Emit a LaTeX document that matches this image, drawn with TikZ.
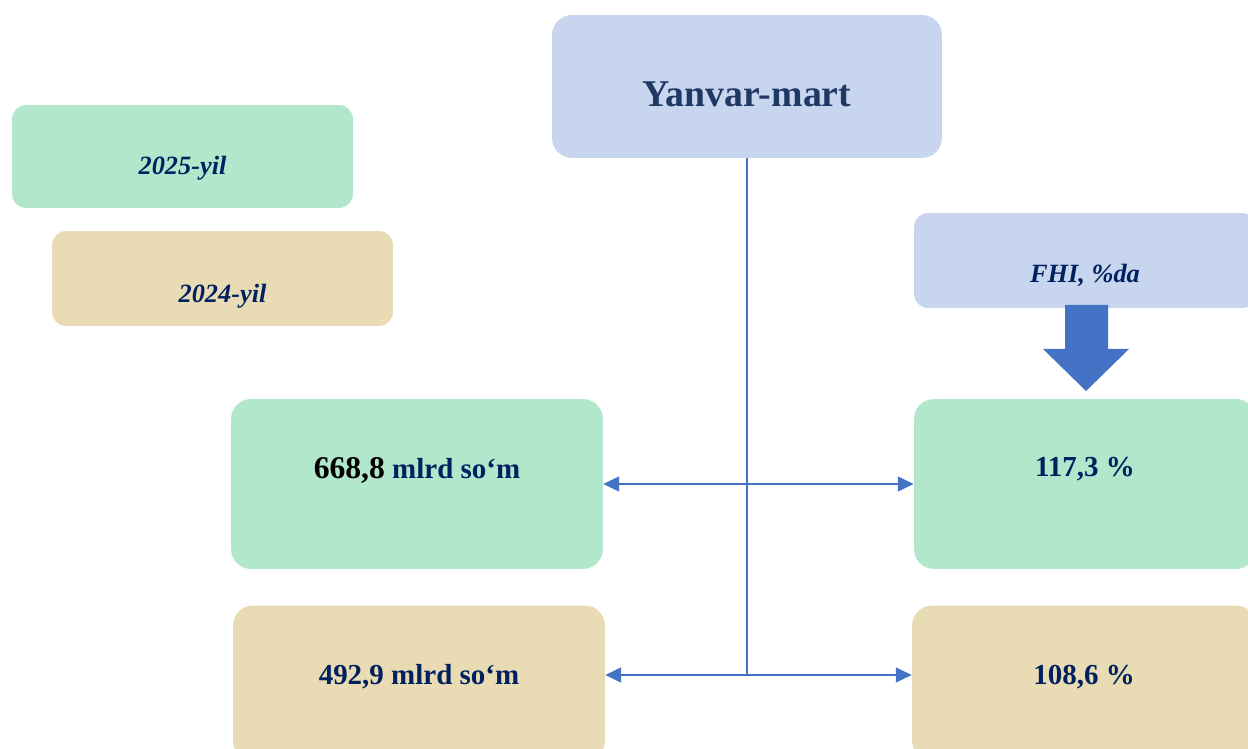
\documentclass[tikz,border=0pt]{standalone}
\usepackage{fontspec}
\setmainfont{Liberation Serif}
\usetikzlibrary{arrows.meta,positioning}
\definecolor{boxgreen}{HTML}{B3E7CB}
\definecolor{boxtan}{HTML}{E9DCB4}
\definecolor{boxblue}{HTML}{C8D5EE}
\definecolor{navy}{HTML}{002060}
\definecolor{titlenavy}{HTML}{1F3864}
\definecolor{linkblue}{HTML}{4472C4}

\begin{document}
\begin{tikzpicture}[
    x=0.02cm, y=-0.02cm,
    box/.style={rectangle,rounded corners=0.4cm,draw=none,inner sep=0pt},
    green box/.style={box,fill=boxgreen},
    tan box/.style={box,fill=boxtan},
    blue box/.style={box,fill=boxblue},
    year/.style={font=\fontsize{15}{18}\selectfont\bfseries\itshape,text=navy},
    value/.style={font=\fontsize{16.5}{20}\selectfont\bfseries,text=navy},
    arrow/.style={{Triangle[length=9pt,width=8.5pt]}-{Triangle[length=9pt,width=8.5pt]},draw=linkblue,line width=0.8pt}
]
\useasboundingbox (0,0) rectangle (1248,749);

% Sarlavha
\node[blue box, minimum width=7.8cm, minimum height=2.86cm,
      label={[font=\fontsize{21.5}{25}\selectfont\bfseries,text=titlenavy,yshift=-0.16cm]center:Yanvar-mart}]
      (title) at (747,86.5) {};

% Yillar
\node[green box, rounded corners=0.28cm, minimum width=6.82cm, minimum height=2.06cm,
      label={[year,yshift=-0.24cm]center:2025-yil}] (y2025) at (182.5,156.5) {};
\node[tan box, rounded corners=0.28cm, minimum width=6.82cm, minimum height=1.9cm,
      label={[year,yshift=-0.36cm]center:2024-yil}] (y2024) at (222.5,278.5) {};

% FHI
\node[blue box, rounded corners=0.28cm, minimum width=6.84cm, minimum height=1.9cm,
      label={[year,yshift=-0.3cm]center:FHI, \%da}] (fhi) at (1085,260.5) {};
\fill[linkblue] (1065,305) -- (1108,305) -- (1108,349) -- (1129,349)
    -- (1086,391) -- (1043,349) -- (1065,349) -- cycle;

% 2025-yil qiymatlari
\node[green box, minimum width=7.44cm, minimum height=3.4cm,
      label={[value,yshift=0.28cm]center:{\fontsize{18}{22}\selectfont\color{black}668,8} mlrd so‘m}]
      (v2025) at (417,484) {};
\node[green box, minimum width=6.84cm, minimum height=3.4cm,
      label={[value,yshift=0.3cm]center:117,3 \%}] (p2025) at (1085,484) {};

% 2024-yil qiymatlari
\node[tan box, minimum width=7.44cm, minimum height=3.1cm,
      label={[value,yshift=0.12cm]center:492,9 mlrd so‘m}] (v2024) at (419,683) {};
\node[tan box, minimum width=6.88cm, minimum height=3.1cm,
      label={[value,yshift=0.12cm]center:108,6 \%}] (p2024) at (1084,683) {};

% Ulanishlar
\coordinate (hub) at (747,675);
\draw[linkblue, line width=0.8pt] (title.south) -- (hub);
\draw[arrow] (v2025.east) -- (p2025.west);
\draw[arrow] (v2024.east |- hub) -- (p2024.west |- hub);

\end{tikzpicture}
\end{document}
